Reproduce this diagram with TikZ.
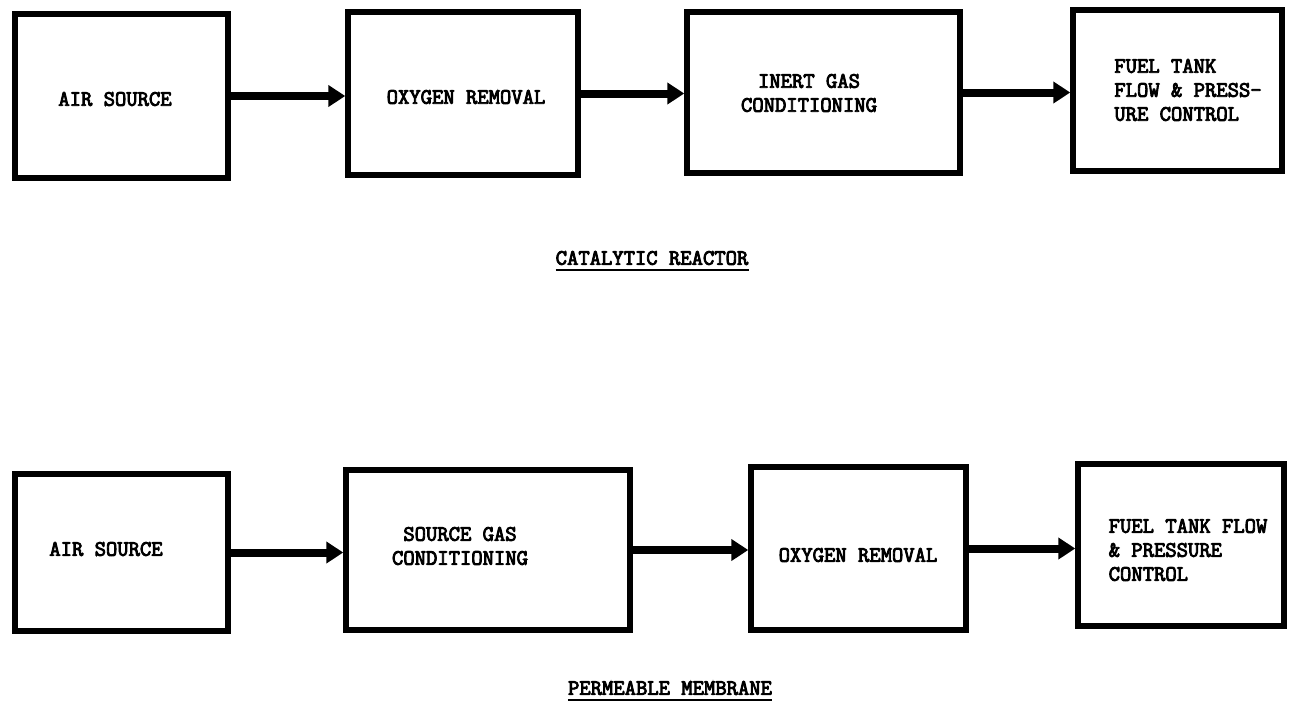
\documentclass[tikz,border=0pt]{standalone}
\usepackage{fontspec}
\newfontfamily\tagfont{Latin Modern Mono}[FakeBold=4]
\usetikzlibrary{arrows.meta}

\tikzset{
  block/.style = {draw, line width=5.5pt, inner sep=0pt},
  tag/.style = {font=\tagfont\fontsize{22}{24}\selectfont, inner sep=0pt},
  flow/.style = {line width=8pt, -{Triangle[length=17pt,width=21pt]}},
  uline/.style = {line width=2.5pt},
}

\begin{document}
\begin{tikzpicture}[x=1pt,y=-1pt]
	\useasboundingbox (0,0) rectangle (1297,702);

	% catalytic reactor
	\begin{scope}
		\node[block, minimum width=213pt, minimum height=164pt] (cr1) at (121.5,96) {};
		\node[block, minimum width=230pt, minimum height=163pt] (cr2) at (463,93.5) {};
		\node[block, minimum width=273pt, minimum height=161pt] (cr3) at (823.5,92.5) {};
		\node[block, minimum width=209pt, minimum height=161pt] (cr4) at (1177.5,90.5) {};

		\node[tag] (cr1t) at (115,99) {AIR SOURCE};
		\node[tag] (cr2t) at (466,97) {OXYGEN REMOVAL};
		\node[tag, align=center] (cr3t) at (809,93) {INERT GAS\\CONDITIONING};
		\node[tag, align=left] (cr4t) at (1188,90) {FUEL TANK\\FLOW \& PRESS-\\URE CONTROL};

		\draw[flow] (cr1.east) -- (cr1.east -| cr2.west);
		\draw[flow] (cr2.east) -- (cr2.east -| cr3.west);
		\draw[flow] (cr3.east) -- (cr3.east -| cr4.west);

		\node[tag] (crcap) at (652,258) {CATALYTIC REACTOR};
		\draw[uline] ([yshift=-5pt]crcap.base west) -- ([yshift=-5pt]crcap.base east);
	\end{scope}

	% permeable membrane
	\begin{scope}
		\node[block, minimum width=213pt, minimum height=157pt] (pm1) at (121.5,552.5) {};
		\node[block, minimum width=284pt, minimum height=160pt] (pm2) at (488,550) {};
		\node[block, minimum width=215pt, minimum height=163pt] (pm3) at (858.5,548.5) {};
		\node[block, minimum width=206pt, minimum height=162pt] (pm4) at (1181,545) {};

		\node[tag] (pm1t) at (106,549) {AIR SOURCE};
		\node[tag, align=center] (pm2t) at (460,546) {SOURCE GAS\\CONDITIONING};
		\node[tag] (pm3t) at (858,555) {OXYGEN REMOVAL};
		\node[tag, align=left] (pm4t) at (1188,550) {FUEL TANK FLOW\\\& PRESSURE\\CONTROL};

		\draw[flow] (pm1.east) -- (pm1.east -| pm2.west);
		\draw[flow] (pm2.east) -- (pm2.east -| pm3.west);
		\draw[flow] (pm3.east) -- (pm3.east -| pm4.west);

		\node[tag] (pmcap) at (670,688) {PERMEABLE MEMBRANE};
		\draw[uline] ([yshift=-5pt]pmcap.base west) -- ([yshift=-5pt]pmcap.base east);
	\end{scope}
\end{tikzpicture}
\end{document}
